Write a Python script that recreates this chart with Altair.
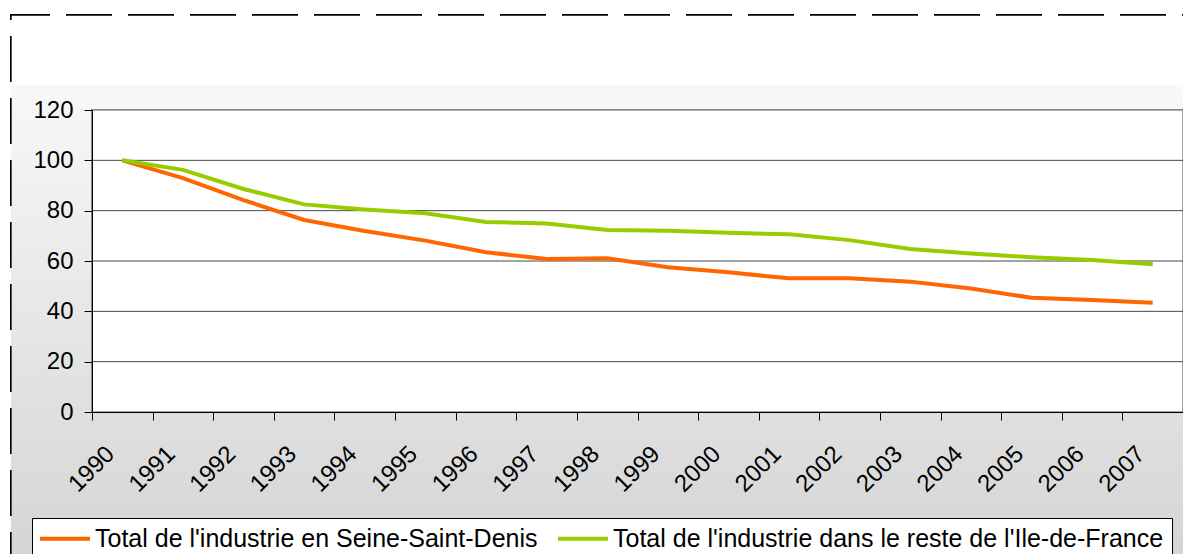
import altair as alt
import pandas as pd

# ---- data ----
years = [str(y) for y in range(1990, 2008)]
seine = [100, 92.9, 84.2, 76.3, 71.9, 68.1, 63.5, 60.8, 61.1, 57.5, 55.5, 53.1, 53.1, 51.8, 49.1, 45.4, 44.5, 43.4]
reste = [100, 96.2, 88.6, 82.5, 80.5, 79.0, 75.5, 74.9, 72.3, 72.0, 71.2, 70.6, 68.3, 64.8, 63.0, 61.5, 60.4, 58.7]
series_names = ["Total de l'industrie en Seine-Saint-Denis",
                "Total de l'industrie dans le reste de l'Ile-de-France"]
series_colors = ["#FF6600", "#99CC00"]
y_ticks = [0, 20, 40, 60, 80, 100, 120]
grid_vals = [20, 40, 60, 80, 100]

df = pd.DataFrame({
    "year": years * 2,
    "value": seine + reste,
    "serie": [series_names[0]] * len(years) + [series_names[1]] * len(years),
})
grid_df = pd.DataFrame({"v": grid_vals})

W, H = 1091, 302
FONT = "Liberation Sans"

yscale = alt.Scale(domain=[0, 120], nice=False, zero=True)
yaxis = alt.Axis(values=y_ticks, grid=False, title=None, domainColor="black",
                 tickColor="black", tickSize=8, labelFontSize=24, labelFont=FONT,
                 labelColor="black", labelPadding=11, zindex=1, domainWidth=1)

gradient = alt.LinearGradient(
    gradient="linear", x1=0, y1=0, x2=0, y2=1,
    stops=[alt.GradientStop(color="#ffffff", offset=0),
           alt.GradientStop(color="#ffffff", offset=0.121),
           alt.GradientStop(color="#f8f8f8", offset=0.122),
           alt.GradientStop(color="#d2d2d2", offset=1)])

bg = alt.Chart(grid_df).mark_rect(
    fill=gradient, stroke="black", strokeWidth=1.3,
    strokeDash=[46, 16], strokeDashOffset=7
).encode(x=alt.value(-81), x2=alt.value(1108), y=alt.value(-95), y2=alt.value(482))

plot_bg = alt.Chart(grid_df).mark_rect(
    fill="white", stroke="#8a8a8a", strokeWidth=1.5
).encode(x=alt.value(0), x2=alt.value(W), y=alt.value(0), y2=alt.value(H))

grid = alt.Chart(grid_df).mark_rule(color="#474747", strokeWidth=1).encode(
    y=alt.Y("v:Q", scale=yscale, axis=yaxis),
    x=alt.value(0), x2=alt.value(W),
)

lines = alt.Chart(df).mark_line(strokeWidth=4).encode(
    x=alt.X("year:O", sort=years,
            scale=alt.Scale(paddingInner=0, paddingOuter=0),
            axis=alt.Axis(title=None, labelAngle=-45, labelAlign="right",
                          labelBaseline="middle", labelOffset=-12, labelPadding=30,
                          tickBand="extent", tickSize=8, tickColor="black",
                          domainColor="black", labelFontSize=24, labelFont=FONT,
                          labelColor="black", labelOverlap=False, zindex=1)),
    y=alt.Y("value:Q", scale=yscale, axis=yaxis),
    color=alt.Color("serie:N",
                    scale=alt.Scale(domain=series_names, range=series_colors),
                    legend=alt.Legend(title=None, orient="none", legendX=-60, legendY=408,
                                      direction="horizontal",
                                      symbolType="M-1.25,0H3.75", symbolSize=400,
                                      symbolStrokeWidth=4, labelFontSize=25,
                                      labelFont=FONT, labelColor="black",
                                      labelOffset=30, labelLimit=2000,
                                      columnPadding=12, padding=8,
                                      fillColor="white", strokeColor="black",
                                      zindex=1)),
    detail="serie:N",
)

chart = alt.layer(bg, plot_bg, grid, lines).properties(
    width=W, height=H,
    autosize=alt.AutoSizeParams(type="none"),
    padding={"left": 84, "top": 102, "right": 0, "bottom": 144},
    background="white",
).configure_view(stroke=None)

chart.save("out.html", embed_options={"renderer": "svg", "actions": False})
